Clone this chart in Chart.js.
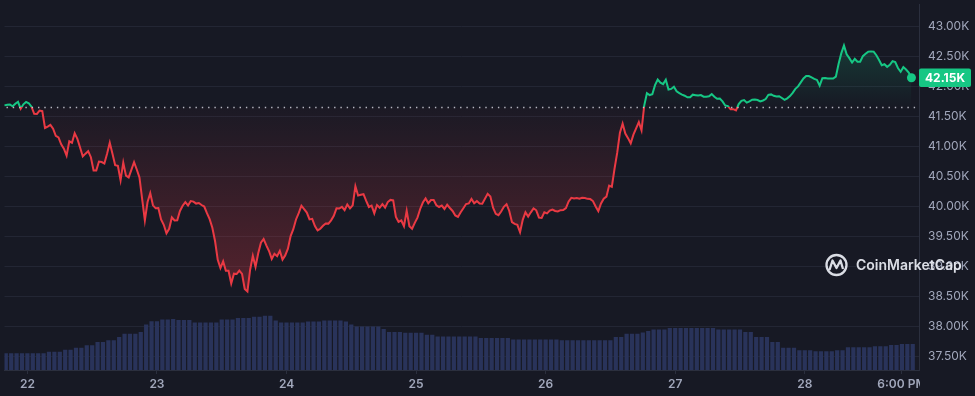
<!DOCTYPE html>
<html>
<head>
<meta charset="utf-8">
<script src="https://cdn.jsdelivr.net/npm/chart.js@4.4.1/dist/chart.umd.min.js"></script>
<style>
  html, body { margin: 0; padding: 0; background: #171924; }
  #wrap { width: 975px; height: 396px; position: relative; }
</style>
</head>
<body>
<div id="wrap"><canvas id="grafico"></canvas></div>
<script>
// precio BTC cada 30 min, primer punto a las 19:45 del dia 21
const priceStartHour = -4.24;
const priceStepHour = 0.5;
const prices = [
  41690, 41700, 41705, 41675, 41718, 41750, 41635, 41708, 41748, 41725,
  41667, 41550, 41547, 41604, 41593, 41312, 41337, 41365, 41301, 41181,
  41154, 41039, 40966, 40851, 41091, 41067, 41223, 41131, 40988, 40838,
  40884, 40925, 40825, 40604, 40604, 40752, 40744, 40719, 40884, 41066,
  40884, 40693, 40681, 40439, 40735, 40516, 40488, 40614, 40742, 40620,
  40488, 40126, 39771, 40076, 40224, 40022, 39972, 39977, 39786, 39697,
  39555, 39631, 39820, 39769, 39771, 39928, 40015, 40076, 40018, 40093,
  40084, 40051, 40060, 40027, 40002, 39890, 39791, 39647, 39426, 39112,
  38976, 39087, 38930, 38930, 38718, 38881, 38876, 38934, 38879, 38625,
  38584, 38947, 39178, 38996, 39222, 39398, 39460, 39354, 39259, 39128,
  39214, 39174, 39263, 39117, 39186, 39298, 39509, 39624, 39786, 39891,
  40015, 39957, 39901, 39786, 39796, 39677, 39603, 39631, 39680, 39720,
  39717, 39771, 39848, 39972, 39969, 39997, 39941, 40035, 39970, 40022,
  40340, 40187, 40198, 40208, 40097, 39994, 40018, 39888, 40027, 39981,
  40040, 39984, 40076, 40112, 40104, 39829, 39746, 39769, 39674, 39931,
  39674, 39631, 39730, 39816, 39961, 40068, 40137, 40055, 40109, 40109,
  40022, 39994, 40018, 39961, 40031, 39977, 39928, 39852, 39829, 39906,
  39974, 40043, 40053, 40129, 40055, 40092, 40051, 40050, 40130, 40213,
  40170, 39982, 39880, 39858, 39918, 39997, 40040, 39928, 39743, 39713,
  39697, 39573, 39779, 39905, 39834, 39905, 39969, 39939, 39816, 39812,
  39906, 39888, 39933, 39951, 39928, 39921, 39941, 39944, 39977, 40086,
  40147, 40135, 40142, 40132, 40149, 40145, 40130, 40126, 40093, 40003,
  39924, 40053, 40132, 40167, 40351, 40330, 40632, 40900, 41235, 41385,
  41220, 41143, 41057, 41202, 41307, 41411, 41273, 41687, 41893, 41862,
  41876, 42028, 42122, 42069, 42044, 42117, 41955, 41964, 42002, 41924,
  41893, 41870, 41851, 41825, 41824, 41868, 41860, 41853, 41862, 41835,
  41835, 41843, 41878, 41833, 41799, 41802, 41756, 41688, 41677, 41624,
  41626, 41606, 41711, 41766, 41779, 41736, 41757, 41784, 41787, 41779,
  41756, 41771, 41795, 41866, 41873, 41850, 41837, 41843, 41812, 41781,
  41807, 41845, 41899, 41965, 42006, 42074, 42138, 42178, 42178, 42156,
  42133, 42114, 42018, 42142, 42145, 42137, 42137, 42137, 42170, 42379,
  42557, 42689, 42542, 42478, 42405, 42466, 42417, 42418, 42511, 42552,
  42587, 42590, 42587, 42526, 42448, 42361, 42377, 42333, 42366, 42428,
  42412, 42313, 42251, 42328, 42288, 42236, 42150
];

// volumen 24h (miles de millones USD), una barra por hora
const volumeStartHour = -4;
const volumeStepHour = 1;
const volumes = [
  8.5, 8.5, 8.5, 8.5, 8.5, 8.5, 8.5, 8.5, 9.2, 9.2,
  9.2, 10.3, 10.3, 11.2, 11.2, 12.5, 12.5, 14.2, 14.2, 15,
  15, 16.7, 18.3, 18.3, 18.3, 19.2, 23, 24.7, 24.7, 25.5,
  25.5, 25.8, 25.3, 25.3, 25.3, 24, 24, 24, 24, 24,
  25.5, 25.5, 25.5, 26.3, 26.3, 26.3, 27, 27, 27.5, 27.5,
  25, 24, 24, 24, 24, 24, 24.5, 24.5, 24.5, 25,
  25, 25, 25, 24.5, 23, 22, 22, 22, 22, 22,
  20.8, 19.2, 19.2, 19.2, 18.8, 18.8, 18.8, 18.8, 17.8, 17.8,
  17, 17, 17, 17, 17, 17, 17, 17, 16.2, 16.2,
  16.2, 16.2, 16.2, 16.2, 15.5, 15.5, 15.5, 15.5, 15.5, 15.5,
  15.5, 15.5, 15.5, 15, 15, 15, 15, 15, 15, 15,
  15, 15, 15, 16.7, 16.7, 18.3, 18.3, 18.3, 19, 19.7,
  20.5, 20.5, 20.5, 21.2, 21.2, 21.2, 21.2, 21.2, 21.2, 21.2,
  21.2, 21.2, 20.5, 20.5, 20.5, 20.5, 20.5, 19.2, 19.2, 16.7,
  16.7, 16.7, 14.2, 14.2, 11.3, 11.3, 11.3, 10, 10, 10,
  9.5, 9.5, 9.5, 9.5, 10, 10, 11.5, 11.5, 11.5, 11.5,
  11.5, 12, 12, 12, 12.7, 12.7, 13.2, 13.2, 13.2
];

const baselinePrice = 41659;
const lastPriceLabel = '42.15K';
const xTickHours = [0, 24, 48, 72, 96, 120, 144, 162];
const xTickLabels = ['22', '23', '24', '25', '26', '27', '28', '6:00 PM'];
const yTicks = [37500, 38000, 38500, 39000, 39500, 40000, 40500, 41000, 41500, 42000, 42500, 43000];

const VERDE = '#16c784';
const ROJO = '#ea3943';
const FONDO = '#171924';

const puntosPrecio = prices.map((p, i) => ({ x: priceStartHour + i * priceStepHour, y: p }));
const barrasVolumen = volumes.map((v, i) => ({ x: volumeStartHour + i * volumeStepHour, y: v }));

function colorLinea(context) {
    const chart = context.chart;
    const area = chart.chartArea;
    if (!area) return VERDE;
    const yb = chart.scales.y.getPixelForValue(baselinePrice);
    const g = chart.ctx.createLinearGradient(0, area.top, 0, area.bottom);
    const s = Math.min(Math.max((yb - area.top) / (area.bottom - area.top), 0), 1);
    g.addColorStop(0, VERDE);
    g.addColorStop(s, VERDE);
    g.addColorStop(s, ROJO);
    g.addColorStop(1, ROJO);
    return g;
}

function rellenoArea(context) {
    const chart = context.chart;
    const area = chart.chartArea;
    if (!area) {
        return { target: { value: baselinePrice }, above: 'rgba(22,199,132,0.1)', below: 'rgba(234,57,67,0.15)' };
    }
    const y = chart.scales.y;
    const yb = y.getPixelForValue(baselinePrice);
    const gv = chart.ctx.createLinearGradient(0, yb, 0, y.getPixelForValue(42750));
    gv.addColorStop(0, 'rgba(22,199,132,0.0)');
    gv.addColorStop(1, 'rgba(22,199,132,0.2)');
    const gr = chart.ctx.createLinearGradient(0, yb, 0, y.getPixelForValue(38500));
    gr.addColorStop(0, 'rgba(234,57,67,0.02)');
    gr.addColorStop(1, 'rgba(234,57,67,0.3)');
    return { target: { value: baselinePrice }, above: gv, below: gr };
}

const decoracion = {
    id: 'decoracion',
    beforeDraw(chart) {
        const c = chart.ctx;
        c.save();
        c.fillStyle = FONDO;
        c.fillRect(0, 0, chart.width, chart.height);
        c.restore();
    },
    afterDatasetsDraw(chart) {
        // linea punteada del precio de apertura
        const c = chart.ctx;
        const area = chart.chartArea;
        const yb = Math.round(chart.scales.y.getPixelForValue(baselinePrice)) + 0.5;
        c.save();
        c.strokeStyle = 'rgba(210,212,222,0.85)';
        c.lineWidth = 1.4;
        c.setLineDash([1.4, 4.9]);
        c.beginPath();
        c.moveTo(area.left + 2, yb);
        c.lineTo(area.right - 3, yb);
        c.stroke();
        c.restore();
    },
    afterDraw(chart) {
        const c = chart.ctx;
        const area = chart.chartArea;
        c.save();
        // recorte de la etiqueta 6:00 PM
        c.fillStyle = FONDO;
        c.fillRect(area.right + 1, area.bottom + 1, chart.width - area.right, chart.height - area.bottom);

        // marca de agua
        c.strokeStyle = 'rgba(236,238,245,0.92)';
        c.fillStyle = 'rgba(236,238,245,0.92)';
        c.lineWidth = 2.3;
        c.beginPath();
        c.arc(836.5, 265, 10, 0, Math.PI * 2);
        c.stroke();
        c.lineJoin = 'round';
        c.beginPath();
        c.moveTo(829.5, 270);
        c.lineTo(832.5, 260.5);
        c.lineTo(836.5, 268);
        c.lineTo(840.5, 260.5);
        c.lineTo(843, 269);
        c.stroke();
        c.font = '600 14px Inter';
        c.textAlign = 'left';
        c.textBaseline = 'middle';
        c.fillText('CoinMarketCap', 856, 266);

        // etiqueta del ultimo precio
        const yl = chart.scales.y.getPixelForValue(prices[prices.length - 1]);
        c.fillStyle = VERDE;
        c.beginPath();
        c.roundRect(area.right, yl - 9.2, 52, 18.4, 2);
        c.fill();
        c.fillStyle = '#ffffff';
        c.font = 'bold 12px Inter';
        c.textAlign = 'center';
        c.fillText(lastPriceLabel, area.right + 26, yl + 0.5);
        c.restore();
    }
};

const ctx = document.getElementById('grafico').getContext('2d');
new Chart(ctx, {
    data: {
        datasets: [
            {
                type: 'line',
                data: puntosPrecio,
                yAxisID: 'y',
                order: 1,
                borderColor: colorLinea,
                borderWidth: 2,
                tension: 0,
                fill: rellenoArea,
                pointRadius: c => c.dataIndex === prices.length - 1 ? 4.5 : 0,
                pointBackgroundColor: VERDE,
                pointBorderWidth: 0,
                clip: false
            },
            {
                type: 'bar',
                data: barrasVolumen,
                yAxisID: 'yv',
                order: 2,
                backgroundColor: '#29335a',
                barPercentage: 1,
                categoryPercentage: 0.78
            }
        ]
    },
    options: {
        responsive: true,
        maintainAspectRatio: false,
        animation: false,
        layout: { padding: 0 },
        plugins: {
            legend: { display: false },
            tooltip: { enabled: false }
        },
        scales: {
            x: {
                type: 'linear',
                position: 'bottom',
                offset: false,
                min: -4.24,
                max: 165.16,
                afterBuildTicks: s => { s.ticks = xTickHours.map(v => ({ value: v })); },
                afterFit: s => { s.height = 26; s.paddingLeft = 0; s.paddingRight = 0; },
                grid: { drawOnChartArea: false, drawTicks: true, tickLength: 4, color: '#2b2f3e', offset: false },
                border: { display: true, color: '#2b2f3e' },
                ticks: {
                    autoSkip: false,
                    maxRotation: 0,
                    padding: 3,
                    color: '#a1a7bb',
                    font: { family: 'Inter', size: 12, weight: '600' },
                    callback: (v, i) => xTickLabels[i]
                }
            },
            y: {
                position: 'right',
                min: 37274,
                max: 43373,
                afterBuildTicks: s => { s.ticks = yTicks.map(v => ({ value: v })); },
                afterFit: s => { s.width = 56; s.paddingTop = 0; s.paddingBottom = 0; },
                grid: { color: '#232634', drawTicks: false },
                border: { display: true, color: '#2b2f3e' },
                ticks: {
                    padding: 9,
                    color: '#a1a7bb',
                    font: { family: 'Inter', size: 12 },
                    callback: v => (v / 1000).toFixed(2) + 'K'
                }
            },
            yv: {
                display: false,
                min: 0,
                max: 185
            }
        }
    },
    plugins: [decoracion]
});
</script>
</body>
</html>
